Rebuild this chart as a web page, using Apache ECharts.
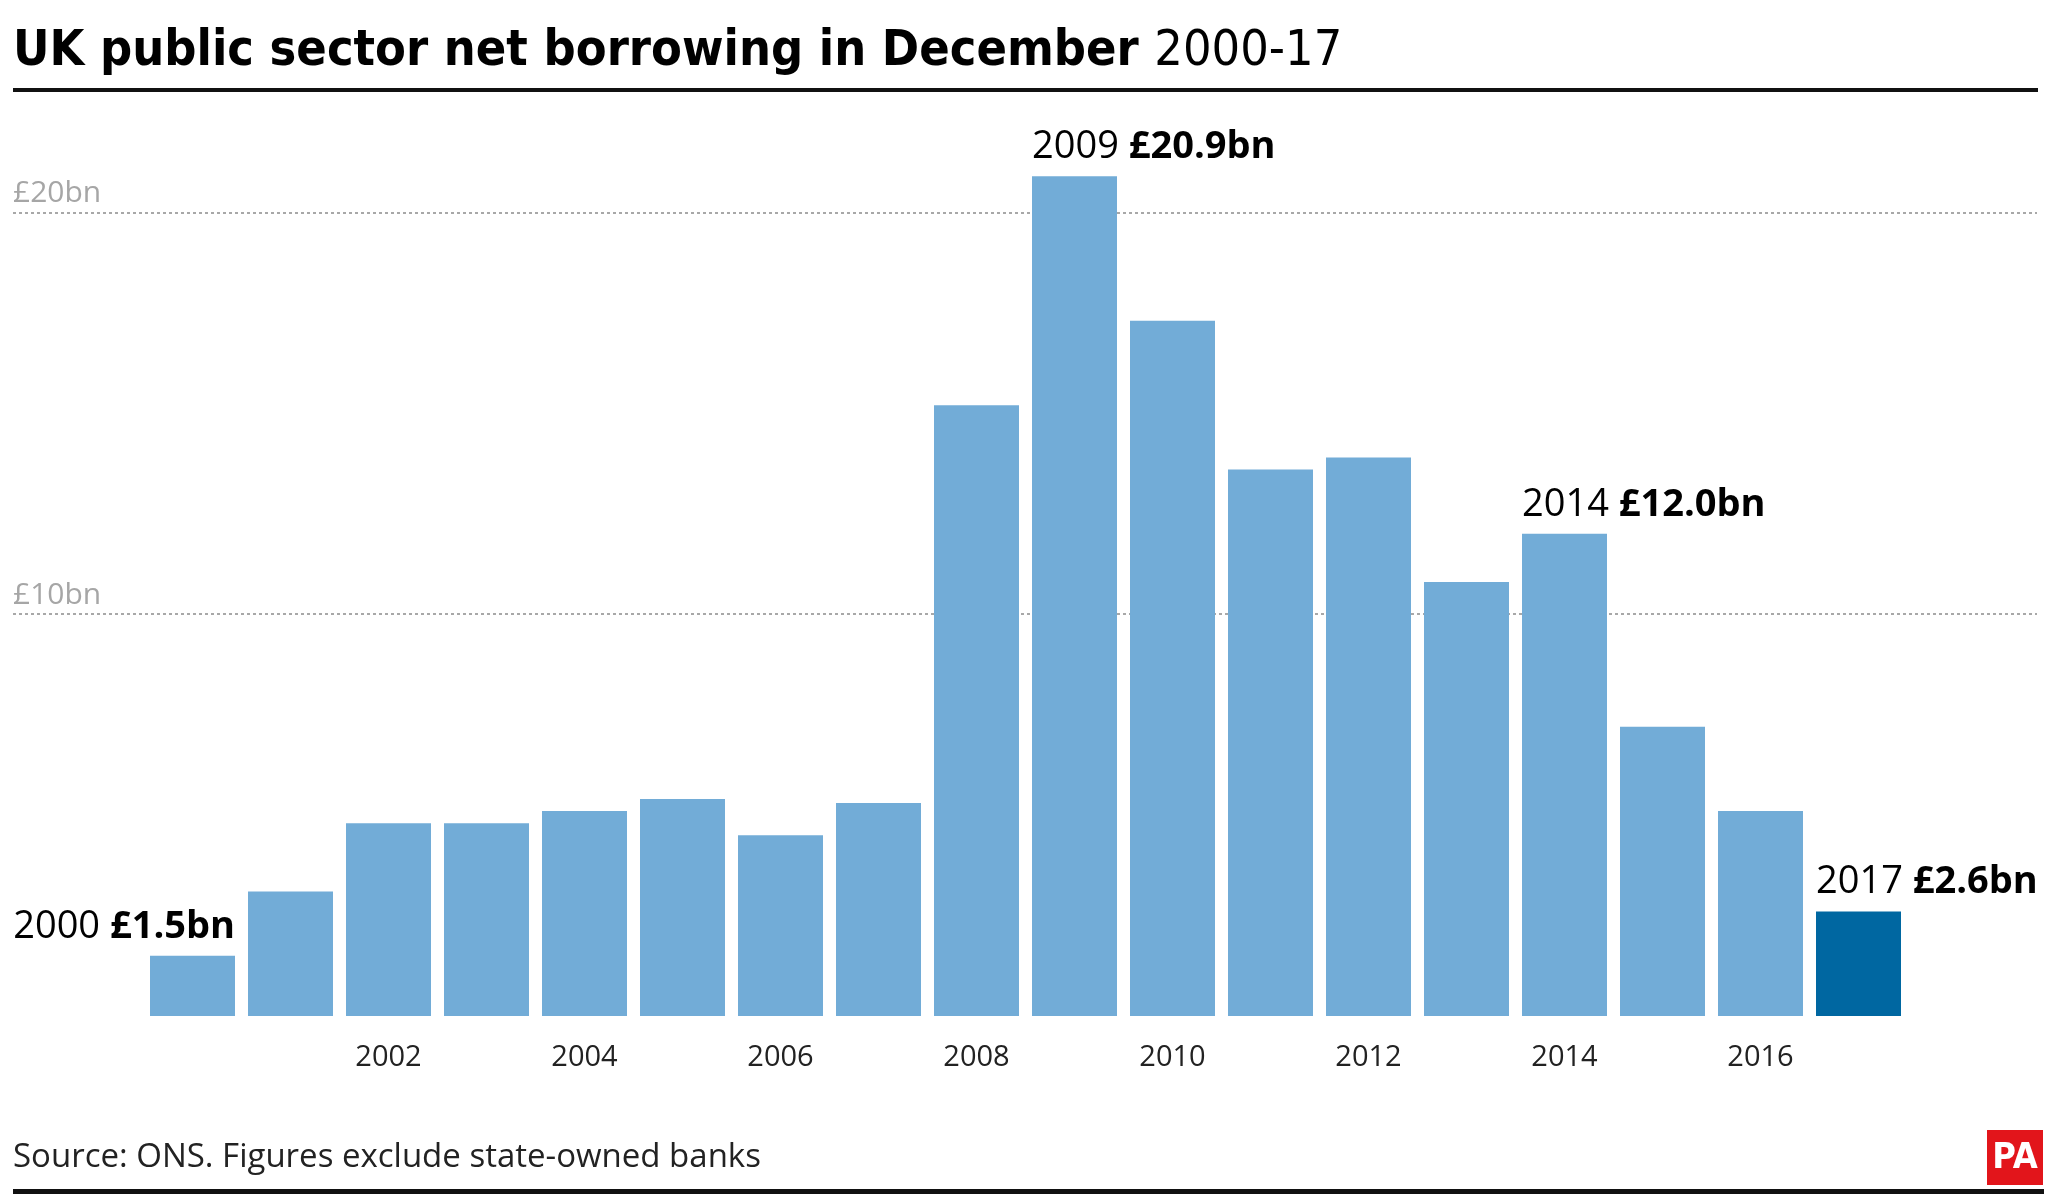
<!DOCTYPE html>
<html><head><meta charset="utf-8">
<script src="https://cdn.jsdelivr.net/npm/echarts@6/dist/echarts.min.js"></script>
<style>html,body{margin:0;padding:0;background:#fff}#c{width:2050px;height:1200px}</style>
</head><body><div id="c"></div>
<script>
// ---- data ----
const years = ['2000','2001','2002','2003','2004','2005','2006','2007','2008','2009','2010','2011','2012','2013','2014','2015','2016','2017'];
const borrowing = [1.5, 3.1, 4.8, 4.8, 5.1, 5.4, 4.5, 5.3, 15.2, 20.9, 17.3, 13.6, 13.9, 10.8, 12.0, 7.2, 5.1, 2.6];
const annotatedYears = ['2000', '2009', '2014', '2017'];
const highlightYear = '2017';
const yTickValues = [10, 20];
const titleBold = 'UK public sector net borrowing in December';
const titleLight = '2000-17';
const sourceText = 'Source: ONS. Figures exclude state-owned banks';

// ---- styles ----
const FONT = '"Open Sans", "Noto Sans", sans-serif';
const NARROW = '"Liberation Sans Narrow", "DejaVu Sans Condensed", Roboto, sans-serif';
const LIGHT = '#72acd7';
const DARK = '#0067a1';
const GRID_TOP = 132, GRID_BOTTOM = 184, Y_MAX = 22;

const chart = echarts.init(document.getElementById('c'));

const barData = borrowing.map((v, i) => {
  const y = years[i];
  const item = { value: v, itemStyle: { color: y === highlightYear ? DARK : LIGHT } };
  if (annotatedYears.includes(y)) {
    const right = i === 0;
    item.label = {
      show: true,
      position: right ? ['100%', -29] : [0, -29],
      align: right ? 'right' : 'left',
      verticalAlign: 'middle',
      fontFamily: FONT, fontSize: 38, color: '#000',
      formatter: '{y|' + y + '} {v|£' + v.toFixed(1) + 'bn}',
      rich: {
        y: { fontFamily: FONT, fontSize: 38, color: '#000' },
        v: { fontFamily: FONT, fontSize: 38, fontWeight: 'bold', color: '#000' }
      }
    };
  }
  return item;
});

const option = {
  animation: false,
  backgroundColor: '#fff',
  title: [
    {
      left: 13, top: 27, padding: 0,
      text: '{b|' + titleBold + '} {r|' + titleLight + '}',
      textStyle: {
        fontFamily: NARROW, fontSize: 50, color: '#000',
        rich: {
          b: { fontFamily: NARROW, fontSize: 50, fontWeight: 'bold', color: '#000' },
          r: { fontFamily: NARROW, fontSize: 50, fontWeight: 'normal', color: '#000' }
        }
      }
    },
    {
      left: 13, top: 1141, padding: 0,
      text: sourceText,
      textStyle: { fontFamily: FONT, fontSize: 33, fontWeight: 'normal', color: '#222' }
    }
  ],
  grid: [
    { left: 13, right: 13, top: GRID_TOP, bottom: GRID_BOTTOM },
    { left: 143.5, right: 142.5, top: GRID_TOP, bottom: GRID_BOTTOM }
  ],
  xAxis: [
    { gridIndex: 0, type: 'value', min: 0, max: 1, show: false },
    {
      gridIndex: 1, type: 'category', data: years,
      axisLine: { show: false }, axisTick: { show: false },
      axisLabel: {
        interval: (i) => i > 0 && i % 2 === 0,
        fontFamily: FONT, fontSize: 29, color: '#222', margin: 27
      }
    }
  ],
  yAxis: [
    {
      gridIndex: 0, type: 'value', min: 0, max: Y_MAX, interval: 10,
      axisLine: { show: false }, axisTick: { show: false },
      axisLabel: {
        inside: true, margin: 0, align: 'left', verticalAlign: 'bottom',
        padding: [0, 0, 4, 0],
        fontFamily: FONT, fontSize: 30, color: '#a6a6a6',
        showMinLabel: false, showMaxLabel: false,
        formatter: (v) => yTickValues.includes(v) ? '£' + v + 'bn' : ''
      },
      splitLine: {
        show: true, showMinLine: false, showMaxLine: false,
        lineStyle: { color: '#a8a8a8', width: 2, type: [3, 3] }
      }
    },
    { gridIndex: 1, type: 'value', min: 0, max: Y_MAX, show: false }
  ],
  series: [
    {
      type: 'bar', xAxisIndex: 1, yAxisIndex: 1,
      barWidth: 85,
      data: barData
    }
  ],
  graphic: [
    { type: 'rect', shape: { x: 13, y: 88, width: 2025, height: 4 }, style: { fill: '#111' } },
    { type: 'rect', shape: { x: 13, y: 1189, width: 2031, height: 5 }, style: { fill: '#111' } },
    { type: 'rect', shape: { x: 1987, y: 1130, width: 56, height: 55 }, style: { fill: '#e2151b' } },
    { type: 'text', x: 2015, y: 1159, style: { text: 'PA', fill: '#fff', font: 'bold 36px ' + NARROW, align: 'center', verticalAlign: 'middle', textAlign: 'center', textVerticalAlign: 'middle' } }
  ]
};
chart.setOption(option);
</script>
</body></html>
